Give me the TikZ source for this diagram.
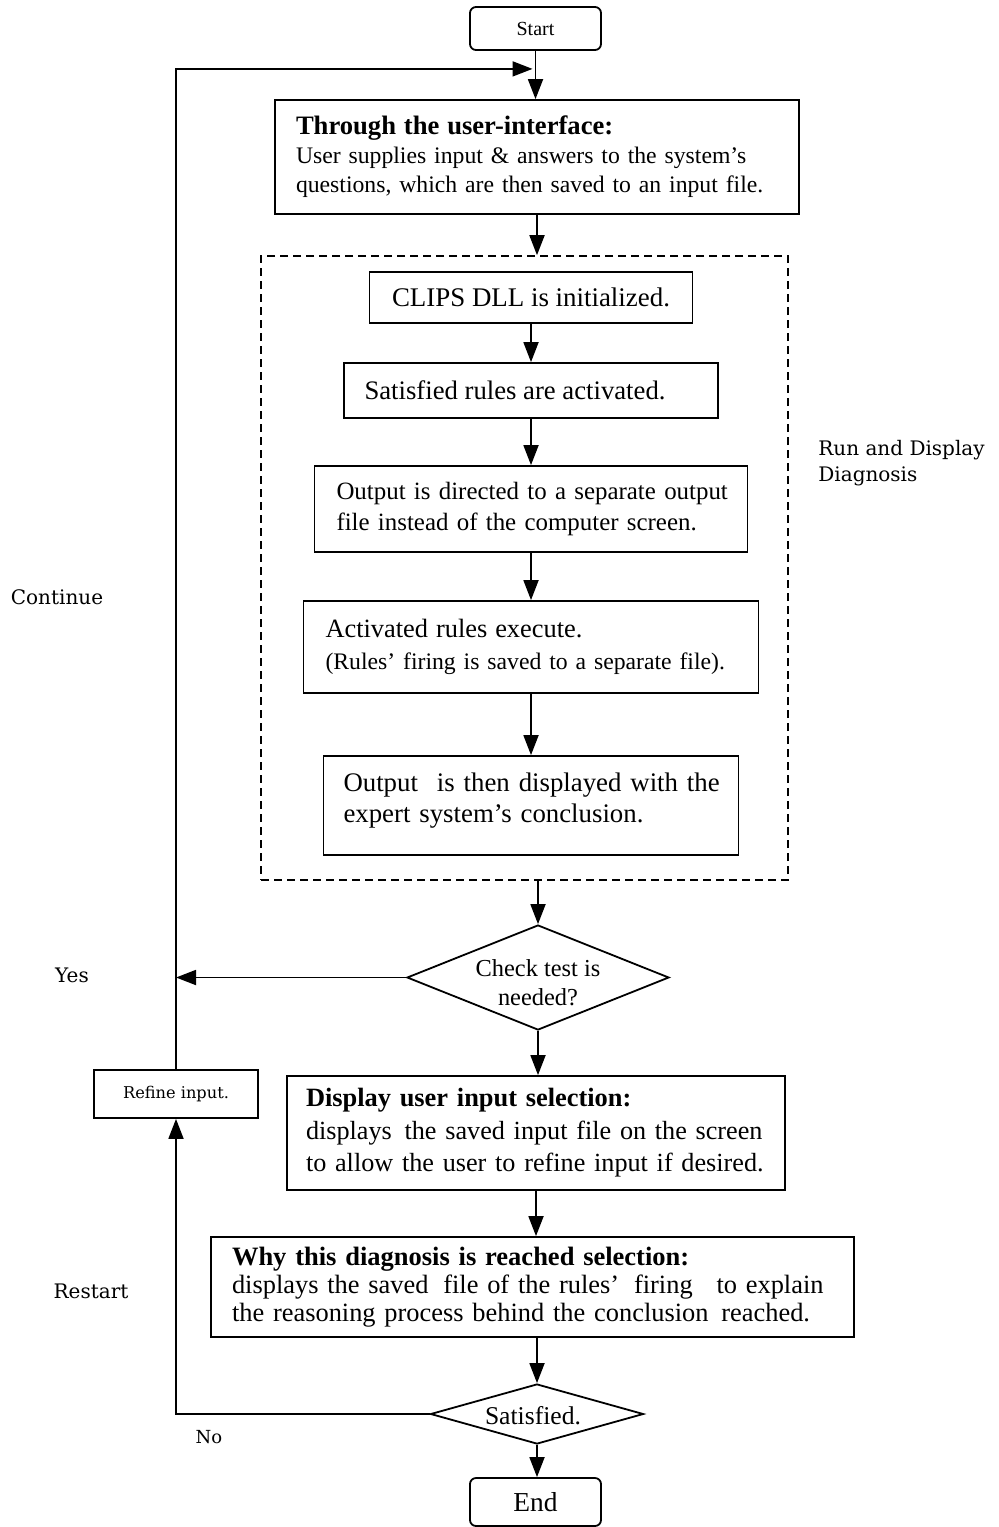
\documentclass[tikz,border=0pt]{standalone}
\usepackage{fontspec}
\setmainfont{Liberation Serif}
\newfontfamily\labelfont{DejaVu Serif}
\usetikzlibrary{shapes.geometric,arrows.meta}

\newcommand{\fs}[2]{\fontsize{#1}{#2}\selectfont}

\tikzset{
  box/.style={draw, line width=0.9pt, rectangle, inner ysep=0pt, align=left},
  cbox/.style={draw, line width=0.9pt, rectangle, inner sep=0pt, align=center},
  term/.style={draw, rounded corners=3pt, line width=0.9pt, minimum width=65.5pt,
    inner sep=0pt},
  decision/.style={draw, diamond, line width=0.9pt, inner sep=0pt},
  group/.style={draw, line width=0.8pt, dash pattern=on 4pt off 2.5pt,
    minimum width=263.5pt, minimum height=312pt, inner sep=0pt},
  arr/.style={-{Triangle[length=10pt,width=7.5pt]}, line width=0.9pt},
  lbl/.style={font=\labelfont\fs{10}{13}, inner sep=0pt, align=left},
}

\begin{document}
\begin{tikzpicture}[x=0.5pt, y=-0.5pt]
\useasboundingbox (0,0) rectangle (999,1527);

% terminals
\node[term, minimum height=21.5pt, font=\fs{10}{12}] (start) at (535.5,28.5) {Start};
\node[term, minimum height=24pt, font=\fs{13.7}{15}] (end) at (535.5,1502) {End};

% user interface
\node[box, minimum width=262pt, minimum height=57pt, inner xsep=10.5pt,
  text width=241pt, font=\fs{11.85}{14.5}] (b1) at (537,157)
  {\mbox{\fs{13.3}{14.5}\bfseries Through the user-interface:}\\
   \mbox{User supplies input \& answers to the system's}\\
   \mbox{questions, which are then saved to an input file.}};

% run and display diagnosis group
\node[group] (run) at (524.5,568) {};
\node[cbox, minimum width=161.5pt, minimum height=25.5pt, font=\fs{13.45}{16}] (b2)
  at (531,297.5) {CLIPS DLL is initialized.};
\node[cbox, minimum width=187pt, minimum height=27.5pt, font=\fs{13.35}{16}] (b3)
  at (531,390.5) {\hspace*{-8pt}Satisfied rules are activated.\hspace*{8pt}};
\node[box, minimum width=216.5pt, minimum height=43pt, inner xsep=11pt,
  text width=194.5pt, font=\fs{12.45}{15.5}] (b4) at (531,509)
  {\mbox{Output is directed to a separate output}\\
   \mbox{file instead of the computer screen.}};
\node[box, minimum width=227.5pt, minimum height=46pt, inner xsep=11pt,
  text width=205.5pt, font=\fs{11.85}{16}] (b5) at (531,647)
  {\mbox{\fs{13.2}{16}Activated rules execute.}\\
   \mbox{(Rules' firing is saved to a separate file).}};
\node[box, minimum width=207.5pt, minimum height=49.5pt, inner xsep=10pt,
  text width=187.5pt, font=\fs{13.4}{15.5}] (b6) at (531,805.5)
  {\mbox{Output\hspace{5pt} is then displayed with the}\\
   \mbox{expert system's conclusion.}\\[-8pt]\mbox{}};

% decisions and later steps
\node[decision, minimum width=131pt, minimum height=52.5pt] (d1) at (538,977.5) {};
\node[align=center, inner sep=0pt, font=\fs{12.2}{14.5}] (d1t) at (538,983)
  {Check test is\\needed?};

\node[box, minimum width=249pt, minimum height=57pt, inner xsep=9.5pt,
  text width=230pt, font=\fs{13.1}{16.25}] (b7) at (536,1133)
  {\mbox{\fs{13.2}{16.25}\bfseries Display user input selection:}\\
   \mbox{displays\hspace{2pt} the saved input file on the screen}\\
   \mbox{to allow the user to refine input if desired.}};

\node[box, minimum width=321.5pt, minimum height=50pt, inner xsep=10.5pt,
  text width=300.5pt, font=\fs{13.2}{14}] (b8) at (532.5,1287)
  {\mbox{\fs{13.25}{14}\bfseries Why this diagnosis is reached selection:}\\
   \mbox{displays the saved\hspace{3pt} file of the rules'\hspace{3pt} firing\hspace{7.5pt} to explain}\\
   \mbox{the reasoning process behind the conclusion\hspace{2pt} reached.}};

\node[decision, minimum width=106.5pt, minimum height=30pt] (d2) at (537,1414) {};
\node[inner sep=0pt, font=\fs{12.8}{14}] (d2t) at (533,1416) {Satisfied.};

\node[cbox, minimum width=82pt, minimum height=24pt, font=\labelfont\fs{8.1}{10}] (ref)
  at (176,1094) {Refine input.};

% connectors
\path (start.south) ++(0,18) coordinate (join);
\draw[arr] (start.south) -- (start.south |- b1.north);
\draw[arr, shorten >=1.5pt] (ref.north) |- (join);
\draw[arr] (b1.south) -- (b1.south |- run.north);
\draw[arr] (b2.south) -- (b2.south |- b3.north);
\draw[arr] (b3.south) -- (b3.south |- b4.north);
\draw[arr] (b4.south) -- (b4.south |- b5.north);
\draw[arr] (b5.south) -- (b5.south |- b6.north);
\draw[arr] (d1.north |- run.south) -- (d1.north);
\draw[arr] (d1.south) -- (d1.south |- b7.north);
\draw[arr] (b7.south) -- (b7.south |- b8.north);
\draw[arr] (d2.north |- b8.south) -- (d2.north);
\draw[arr] (d2.south) -- (d2.south |- end.north);
\draw[arr] (d1.west) -- (d1.west -| ref.north);
\draw[arr] (d2.west) -| (ref.south);

% labels
\node[lbl] (continue) at (57,597) {Continue};
\node[lbl] (yes) at (72,975) {Yes};
\node[lbl] (restart) at (91,1291) {Restart};
\node[lbl, font=\labelfont\fs{9}{11}] (no) at (209,1437) {No};
\node[lbl, anchor=west] (rundisp) at (818,463) {Run and Display\\Diagnosis};
\end{tikzpicture}
\end{document}
